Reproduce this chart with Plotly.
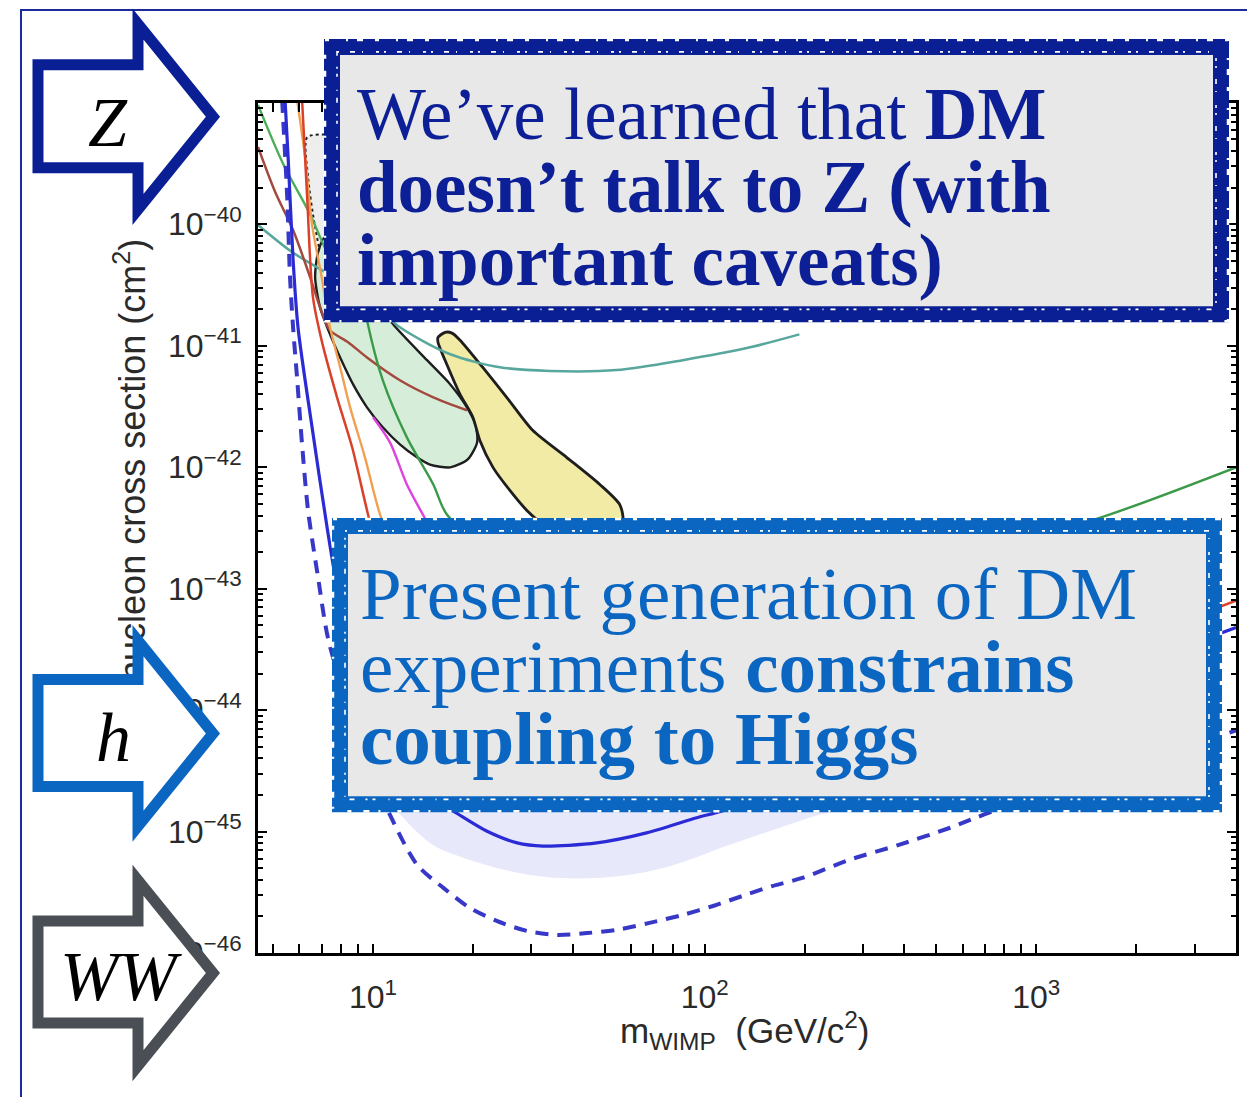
import plotly.graph_objects as go

# ---------------- axis ticks ----------------
x_tick_exponents = [1, 2, 3]
y_tick_exponents = [-40, -41, -42, -43, -44, -45, -46]

# ---------------- limit curves (mass in GeV/c^2, cross section in cm^2) ----------------
# main limit (solid blue)
lux_mass = [5.43, 5.55, 5.74, 5.94, 6.55, 7.27, 7.8, 9.14, 12.05, 14.85, 17.4, 22.0,
            27.2, 32.5, 47.3, 66.8, 94.6, 113, 193, 1000, 4000]
lux_sigma = [1.06e-39, 3.44e-40, 5.17e-41, 1.42e-41, 2.13e-42, 3.19e-43, 1.02e-43,
             1.53e-44, 3.35e-45, 1.9e-45, 1.48e-45, 1.01e-45, 8.07e-46, 7.6e-46,
             8.07e-46, 9.75e-46, 1.30e-45, 1.48e-45, 2.52e-45, 1.19e-44, 4.78e-44]

# expected-sensitivity band around the main limit
band_mass = [11.25, 14.85, 18.7, 29.7, 47.3, 74.6, 119, 207, 387]
band_low = [1.72e-45, 8.07e-46, 6.1e-46, 4.4e-46, 4.15e-46, 5.0e-46, 7.8e-46, 1.30e-45, 2.29e-45]
band_high = [8.6e-45, 4.0e-45, 3.0e-45, 2.2e-45, 2.1e-45, 2.5e-45, 3.9e-45, 6.5e-45, 1.15e-44]

# projected sensitivity (dashed blue)
proj_mass = [5.32, 5.51, 5.62, 5.74, 5.90, 6.11, 6.37, 6.83, 7.31, 8.24, 9.79, 11.25,
             13.6, 16.3, 19.6, 23.6, 29.1, 35.8, 44.2, 54.3, 68.2, 85.9, 106, 130,
             160, 197, 273, 387, 547, 721, 4000]
proj_sigma = [1.06e-39, 1.68e-40, 3.67e-41, 1.42e-41, 5.5e-42, 1.54e-42, 4.4e-43,
              1.23e-43, 3.95e-44, 1.27e-44, 3.35e-45, 1.37e-45, 5.3e-46, 3.44e-46,
              2.35e-46, 1.84e-46, 1.52e-46, 1.41e-46, 1.46e-46, 1.55e-46, 1.77e-46,
              2.06e-46, 2.44e-46, 2.95e-46, 3.56e-46, 4.15e-46, 5.85e-46, 7.8e-46,
              1.07e-45, 1.43e-45, 6.8e-45]

# red limit
xe12_mass = [6.11, 6.33, 6.59, 7.02, 7.79, 8.65, 9.66, 11.25, 14.85, 24.1, 55.5, 193, 1000, 4000]
xe12_sigma = [1.06e-39, 1.68e-40, 2.51e-41, 1.07e-41, 3.76e-42, 1.46e-42, 4.08e-43,
              8.45e-44, 1.27e-44, 3.35e-45, 2.0e-45, 3.35e-45, 1.9e-44, 7.98e-44]

# orange limit
xe11_mass = [5.9, 6.24, 6.55, 7.02, 7.42, 7.96, 8.53, 9.46, 10.5, 13.9, 24.1, 55.5, 193, 1000]
xe11_sigma = [1.06e-39, 3.58e-40, 9.85e-41, 3.53e-41, 1.42e-41, 6.65e-42, 3.11e-42,
              1.2e-42, 4.08e-43, 5.78e-44, 1.27e-44, 6.5e-45, 9.5e-45, 5.78e-44]

# magenta limit
zep_mass = [10, 11.25, 12.65, 14.3, 19.6, 36.6, 96.6, 1000]
zep_sigma = [2.58e-42, 1.6e-42, 7.2e-43, 3.85e-43, 8.45e-44, 3.27e-44, 3.95e-44, 1.8e-43]

# green limit (steep, rising again at high mass)
ge_mass = [8.65, 9.02, 9.33, 9.59, 10.7, 12.65, 15.2, 16.7, 24.1, 48.3, 193, 547, 1495, 4000]
ge_sigma = [2.45e-40, 6.5e-41, 2.51e-41, 1.62e-41, 5.2e-42, 1.76e-42, 7.2e-43, 4.08e-43,
            1.8e-43, 1.02e-43, 1.12e-43, 1.8e-43, 3.7e-43, 9.96e-43]

# green limit (low mass)
lowm_mass = [4.5, 5.36, 6.46, 7.07, 8.24, 10.5]
lowm_sigma = [9.6e-40, 3.13e-40, 1.21e-40, 6.9e-41, 3.03e-41, 2.28e-41]

# brown limit
s2_mass = [4.5, 5.07, 5.74, 6.46, 6.92, 7.42, 8.41, 9.59, 12.05, 15.2, 19.2]
s2_sigma = [4.33e-40, 1.84e-40, 8.96e-41, 3.67e-41, 2.08e-41, 1.34e-41, 1.07e-41,
            8.0e-42, 5.2e-42, 3.76e-42, 2.94e-42]

# teal limit
teal_mass = [4.5, 5.70, 7.17, 9.46, 12.05, 17.1, 24.1, 34.1, 54.3, 85.9, 137, 193]
teal_sigma = [9.85e-41, 5.9e-41, 4.04e-41, 2.51e-41, 1.42e-41, 8.5e-42, 6.65e-42,
              6.2e-42, 6.3e-42, 7.6e-42, 9.7e-42, 1.24e-41]

# ---------------- allowed regions (closed contours) ----------------
green_region_mass = [7.17, 9.14, 11.5, 14.55, 17.1, 19.2, 20.4, 20.6, 19.3, 17.1, 14.85,
                     13.6, 12.05, 10.7, 9.59, 8.71, 7.96, 7.42, 6.92, 6.69, 6.83]
green_region_sigma = [7.84e-41, 3.67e-41, 1.5e-41, 7.6e-42, 4.8e-42, 3.11e-42, 2.21e-42,
                      1.6e-42, 1.16e-42, 9.96e-43, 1.05e-42, 1.2e-42, 1.54e-42, 2.13e-42,
                      3.11e-42, 4.8e-42, 8.0e-42, 1.24e-41, 2.08e-41, 3.67e-41, 5.9e-41]

yellow_region_mass = [15.7, 16.5, 17.3, 18.3, 21.4, 25.3, 30.3, 38.4, 48.3, 55.5, 56.6,
                      48.3, 36.6, 31.2, 29.1, 25.9, 23.0, 21.0, 20.0, 18.3, 16.7, 15.7]
yellow_region_sigma = [1.17e-41, 1.29e-41, 1.27e-41, 1.11e-41, 6.65e-42, 3.76e-42, 2.01e-42,
                       1.2e-42, 7.2e-43, 4.9e-43, 3.51e-43, 2.4e-43, 2.64e-43, 3.7e-43,
                       4.4e-43, 6.4e-43, 9.96e-43, 1.66e-42, 2.58e-42, 3.98e-42, 7.0e-42,
                       1.07e-41]

gray_region_mass = [6.33, 7.42, 8.24, 8.53, 7.96, 7.17, 6.69, 6.37]
gray_region_sigma = [5.2e-40, 5.4e-40, 4.33e-40, 1.68e-40, 5.37e-41, 4.61e-41, 9.5e-41, 2.45e-40]

# ---------------- text ----------------
top_lines = ["We\u2019ve learned that <b>DM</b>",
             "<b>doesn\u2019t talk to Z (with</b>",
             "<b>important caveats)</b>"]
bottom_lines = ["Present generation of DM",
                "experiments <b>constrains</b>",
                "<b>coupling to Higgs</b>"]
arrow_labels = ["Z", "h", "WW"]
y_title = "WIMP-nucleon cross section (cm<sup>2</sup>)"
x_title = "m<sub>WIMP</sub>  (GeV/c<sup>2</sup>)"

# ---------------- page geometry (pixels) ----------------
W, H = 1247, 1097
KY = 1113.0 / 1097.0          # vertical correction of the page layout
PL, PR, PT, PB = 258, 1236, 103, 955


def fx(x):
    return x / W


def fy(y):
    return 1 - (y * KY) / H


fig = go.Figure()


def add_region(m, s, fill, line_color, width=2.4, dash="solid"):
    fig.add_trace(go.Scatter(
        x=m + [m[0]], y=s + [s[0]], mode="lines", fill="toself", fillcolor=fill,
        line=dict(color=line_color, width=width, dash=dash, shape="spline", smoothing=0.7),
        hoverinfo="skip", showlegend=False))


def add_line(m, s, color, width=2.5, dash="solid"):
    fig.add_trace(go.Scatter(
        x=m, y=s, mode="lines",
        line=dict(color=color, width=width, dash=dash, shape="spline", smoothing=0.8),
        hoverinfo="skip", showlegend=False))


# sensitivity band
fig.add_trace(go.Scatter(
    x=band_mass + band_mass[::-1], y=band_high + band_low[::-1], mode="lines",
    fill="toself", fillcolor="rgba(140,140,235,0.20)", line=dict(width=0, shape="spline"),
    hoverinfo="skip", showlegend=False))

add_region(gray_region_mass, gray_region_sigma, "rgba(200,200,200,0.3)", "#222222", 2.0, "dot")
add_region(green_region_mass, green_region_sigma, "#d6eed9", "#1e1e1e", 2.4)
add_region(yellow_region_mass, yellow_region_sigma, "#f1eba6", "#1e1e1e", 2.8)

add_line(teal_mass, teal_sigma, "#57a79c", 2.5)
add_line(lowm_mass, lowm_sigma, "#4cae58", 2.4)
add_line(s2_mass, s2_sigma, "#a34a3e", 2.5)
add_line(ge_mass, ge_sigma, "#3a9a48", 2.4)
add_line(zep_mass, zep_sigma, "#dd44dd", 2.4)
add_line(xe11_mass, xe11_sigma, "#f0a050", 2.4)
add_line(xe12_mass, xe12_sigma, "#d9412b", 2.5)
add_line(proj_mass, proj_sigma, "#3838c8", 4.0, "13px,9px")
add_line(lux_mass, lux_sigma, "#2b2bd6", 3.2)

# invisible anchor so the title axis is drawn
fig.add_trace(go.Scatter(x=[10 ** x_tick_exponents[0]], y=[0.5], yaxis="y2", mode="markers",
                         marker=dict(opacity=0), hoverinfo="skip", showlegend=False))


def minor_vals(lo, hi):
    return [k * 10.0 ** e for e in range(lo, hi) for k in range(2, 10)]


tick_font = dict(family="Liberation Sans, Arial, sans-serif", size=32, color="#2a2a2a")
axis_common = dict(showline=True, linecolor="black", linewidth=3, mirror="allticks",
                   ticks="inside", ticklen=9, tickwidth=2, tickcolor="black",
                   showgrid=False, zeroline=False, tickfont=tick_font)

fig.update_layout(
    width=W, height=H, margin=dict(l=0, r=0, t=0, b=0),
    paper_bgcolor="white", plot_bgcolor="white", showlegend=False,
    xaxis=dict(type="log", range=[0.6532, 3.6021], domain=[fx(PL), fx(PR)],
               tickmode="array", tickvals=[10.0 ** e for e in x_tick_exponents],
               ticktext=["10<sup>%d</sup>" % e for e in x_tick_exponents],
               ticklabelstandoff=14,
               minor=dict(ticks="inside", ticklen=5, tickwidth=1.5, tickcolor="black",
                          tickmode="array", tickvals=minor_vals(0, 4), showgrid=False),
               **axis_common),
    yaxis=dict(type="log", range=[-46, -39], domain=[fy(PB), fy(PT)],
               tickmode="array", tickvals=[10.0 ** e for e in y_tick_exponents],
               ticktext=["10<sup>\u2212%d</sup>" % (-e) for e in y_tick_exponents],
               ticklabelstandoff=7,
               minor=dict(ticks="inside", ticklen=5, tickwidth=1.5, tickcolor="black",
                          tickmode="array", tickvals=minor_vals(-46, -39), showgrid=False),
               **axis_common),
    yaxis2=dict(overlaying="y", anchor="free", position=fx(152), side="left",
                range=[0, 1], tickmode="array", tickvals=[0.509], ticktext=[y_title],
                tickangle=-90, ticks="", showline=False, showgrid=False, zeroline=False,
                tickfont=dict(family="Liberation Sans, Arial, sans-serif", size=36,
                              color="#2a2a2a")),
)


# ---------------- shapes ----------------
def path(points):
    s = "M %.5f %.5f" % (fx(points[0][0]), fy(points[0][1]))
    for x, y in points[1:]:
        s += " L %.5f %.5f" % (fx(x), fy(y))
    return s + " Z"


def rect_path(x0, y0, x1, y1):
    return path([(x0, y0), (x1, y0), (x1, y1), (x0, y1)])


shapes = []
# page frame
shapes.append(dict(type="path", path=rect_path(21, 10, 1275, 1125), xref="paper", yref="paper",
                   line=dict(color="#1b2b9b", width=2), fillcolor="rgba(0,0,0,0)", layer="above"))


def sketch_box(x0, y0, x1, y1, color, width):
    shapes.append(dict(type="path", path=rect_path(x0, y0, x1, y1), xref="paper", yref="paper",
                       line=dict(color=color, width=width), fillcolor="#e8e8e8", layer="above"))
    # white flecks for a hand-drawn border
    shapes.append(dict(type="path", path=rect_path(x0 + 5, y0 + 5, x1 - 5, y1 - 5),
                       xref="paper", yref="paper",
                       line=dict(color="white", width=1.6, dash="2px,11px,5px,7px,1px,13px,3px,5px"),
                       fillcolor="rgba(0,0,0,0)", layer="above"))
    shapes.append(dict(type="path", path=rect_path(x0 - 7, y0 - 7, x1 + 7, y1 + 7),
                       xref="paper", yref="paper",
                       line=dict(color="white", width=2.5, dash="4px,17px,2px,9px,6px,12px"),
                       fillcolor="rgba(0,0,0,0)", layer="above"))


sketch_box(332, 47, 1221, 315, "#0a1f94", 16)
sketch_box(340, 527, 1214, 806, "#0b66c2", 16)


def block_arrow(top, bottom, tip_y, color):
    head_top = tip_y - 93
    head_bot = tip_y + 93
    pts = [(38, top), (138, top), (138, head_top), (213, tip_y), (138, head_bot),
           (138, bottom), (38, bottom)]
    shapes.append(dict(type="path", path=path(pts), xref="paper", yref="paper",
                       line=dict(color=color, width=11), fillcolor="white", layer="above"))


block_arrow(65, 168, 117, "#0a1f94")
block_arrow(681, 788, 735, "#0b66c2")
block_arrow(923, 1025, 975, "#4a4e55")

fig.update_layout(shapes=shapes)


# ---------------- annotations ----------------
def text(t, x, y, size, color, family="Liberation Serif, serif", xanchor="left"):
    fig.add_annotation(text=t, x=fx(x), y=fy(y), xref="paper", yref="paper",
                       xanchor=xanchor, yanchor="middle", showarrow=False,
                       font=dict(family=family, size=size, color=color))


for i, line in enumerate(top_lines):
    text(line, 355, 115 + 73 * i, 73, "#0c1f96")
for i, line in enumerate(bottom_lines):
    text(line, 358, 595 + 72.5 * i, 75, "#0b66c2")

for lab, (x, y) in zip(arrow_labels, [(108, 123), (113, 739), (121, 979)]):
    text("<i>%s</i>" % lab, x, y, 70, "black", xanchor="center")

text(x_title, 745, 1033, 35, "#2a2a2a", family="Liberation Sans, Arial, sans-serif",
     xanchor="center")

fig.write_html("out.html")
